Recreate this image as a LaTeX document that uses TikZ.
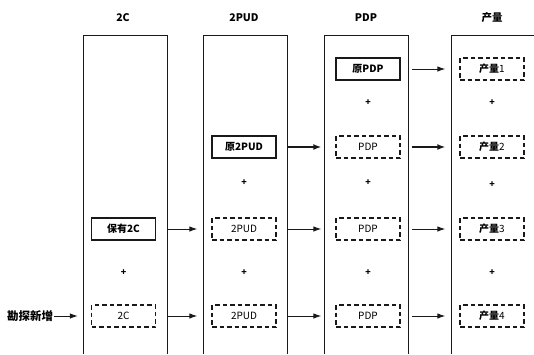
\documentclass[tikz,border=0pt]{standalone}
\usepackage{fontspec}
\setmainfont{Noto Sans CJK SC}
\usepackage{tikz}
\usetikzlibrary{arrows.meta}
\definecolor{mydark}{RGB}{25,25,25}
\tikzset{
  solidbox/.style={rectangle, draw=mydark, line width=1.5pt,
    minimum width=64pt, minimum height=22pt, inner sep=0pt,
    font=\fontsize{10}{12}\selectfont\bfseries},
  dashbox/.style={rectangle, draw=mydark, line width=1.3pt,
    dash pattern=on 4.5pt off 3pt,
    minimum width=64pt, minimum height=22pt, inner sep=0pt,
    font=\fontsize{10}{12}\selectfont},
  header/.style={font=\fontsize{10.5}{12}\selectfont\bfseries},
  plus/.style={font=\fontsize{9}{10}\selectfont\bfseries, inner sep=0pt},
  column/.style={line width=1pt, color=mydark},
  arrow/.style={-{Latex[length=8pt,width=5.5pt]}, line width=1pt,
    color=mydark, shorten <=11pt, shorten >=14pt},
  thickarrow/.style={-{Latex[length=8pt,width=6pt]}, line width=2.2pt,
    color=mydark, shorten <=11pt, shorten >=14pt}
}
\newcommand{\outlabel}[1]{{\bfseries 产量}#1}

\begin{document}
\begin{tikzpicture}[x=1pt, y=-1pt]
  \useasboundingbox (0,0) rectangle (534,354);

  % Columns (open at the bottom)
  \draw[column] (83,354) |- (167,35) -- (167,354);
  \draw[column] (203,354) |- (287,35) -- (287,354);
  \draw[column] (324,354) |- (408,35) -- (408,354);
  \draw[column] (451,354) |- (534,35);

  % Headers
  \node[header] (h2c) at (123,18) {2C};
  \node[header] (h2pud) at (244,18) {2PUD};
  \node[header] (hpdp) at (366,18) {PDP};
  \node[header] (hout) at (492,18) {产量};

  % Row 1
  \node[solidbox] (pdp1) at (368,69) {原PDP};
  \node[dashbox] (out1) at (492,69) {\outlabel{1}};
  % Row 2
  \node[solidbox] (pud2) at (244,147) {原2PUD};
  \node[dashbox] (pdp2) at (368,147) {PDP};
  \node[dashbox] (out2) at (492,147) {\outlabel{2}};
  % Row 3
  \node[solidbox] (keep2c) at (123.5,229) {保有2C};
  \node[dashbox] (pud3) at (244,229) {2PUD};
  \node[dashbox] (pdp3) at (368,229) {PDP};
  \node[dashbox] (out3) at (492,229) {\outlabel{3}};
  % Row 4
  \node[dashbox] (new2c) at (123.5,316) {2C};
  \node[dashbox] (pud4) at (244,316) {2PUD};
  \node[dashbox] (pdp4) at (368,316) {PDP};
  \node[dashbox] (out4) at (492,316) {\outlabel{4}};

  % Plus signs
  \foreach \x/\y [count=\i] in {368/103, 492/103, 244/183, 368/183, 492/185,
      123.5/273, 244/273, 368/273, 492/273}
    \node[plus] (plus\i) at (\x,\y) {+};

  % Source
  \node[anchor=west, inner sep=0pt, font=\fontsize{11.5}{13}\selectfont\bfseries]
    (src) at (7,316) {勘探新增};

  % Arrows
  \draw[arrow, shorten <=1pt, shorten >=13pt] (src.east) -- (new2c.west);
  \draw[arrow] (pdp1) -- (out1);
  \draw[thickarrow] (pud2) -- (pdp2);
  \draw[thickarrow] (pdp2) -- (out2);
  \draw[arrow] (keep2c) -- (pud3);
  \draw[arrow] (pud3) -- (pdp3);
  \draw[arrow] (pdp3) -- (out3);
  \draw[arrow] (new2c) -- (pud4);
  \draw[arrow] (pud4) -- (pdp4);
  \draw[arrow] (pdp4) -- (out4);
\end{tikzpicture}
\end{document}
